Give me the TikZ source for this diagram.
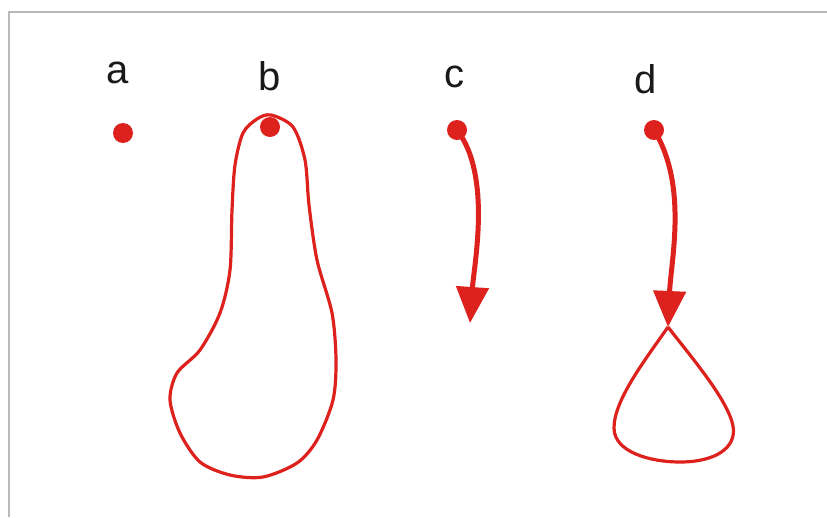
\documentclass[tikz,border=0pt]{standalone}
\usepackage{fontspec}
\setmainfont{Liberation Sans}
\usetikzlibrary{arrows.meta}
\definecolor{pathred}{RGB}{221,34,30}
\definecolor{framegray}{RGB}{185,185,185}
\tikzset{
  dotnode/.style={circle, fill=pathred, draw=none, inner sep=0pt, minimum size=20pt},
  lbl/.style={anchor=base, inner sep=0pt, text=black!90, font=\fontsize{40}{44}\selectfont},
  thinpath/.style={draw=pathred, line width=3.2pt, line join=round},
  arrowpath/.style={draw=pathred, line width=5pt, line cap=round, -{Triangle[length=36pt, width=32pt]}},
}
\begin{document}
\begin{tikzpicture}[x=1pt, y=-1pt]
\useasboundingbox (0,0) rectangle (827,517);
\fill[white] (0,0) rectangle (827,517);
% frame
\draw[framegray, line width=1.5pt] (9,517) -- (9,12) -- (827,12);

% labels
\node[lbl] (la) at (118,83) {a};
\node[lbl] (lb) at (270,90) {b};
\node[lbl] (lc) at (454,87) {c};
\node[lbl] (ld) at (646,93) {d};

% loop b
\draw[thinpath] plot[smooth cycle, tension=0.5] coordinates {
 (271,115) (293,127) (305,160) (309,205) (317,260) (332,313) (336,360)
 (333,400) (317,440) (297,463) (263,477) (230,475) (200,462) (180,433)
 (170,400) (177,373) (200,350) (220,313) (230,270) (232,210) (235,165)
 (243,133) (257,119)};

% loop d
\coordinate (dtip) at (668,327);
\draw[thinpath] (dtip) .. controls (645,360) and (614,400) .. (614,428)
  .. controls (614,452) and (650,462) .. (680,462)
  .. controls (715,462) and (737,448) .. (733,426)
  .. controls (728,400) and (692,358) .. (dtip);

% dots
\node[dotnode] (da) at (123,133) {};
\node[dotnode] (db) at (270,127) {};
\node[dotnode] (dc) at (457,130) {};
\node[dotnode] (dd) at (654,130) {};

% arrows
\coordinate (ctip) at (470,323);
\draw[arrowpath] (dc.center) .. controls (492,175) and (474,265) .. (ctip);
\draw[arrowpath] (dd.center) .. controls (688,185) and (671,260) .. (dtip);
\end{tikzpicture}
\end{document}
